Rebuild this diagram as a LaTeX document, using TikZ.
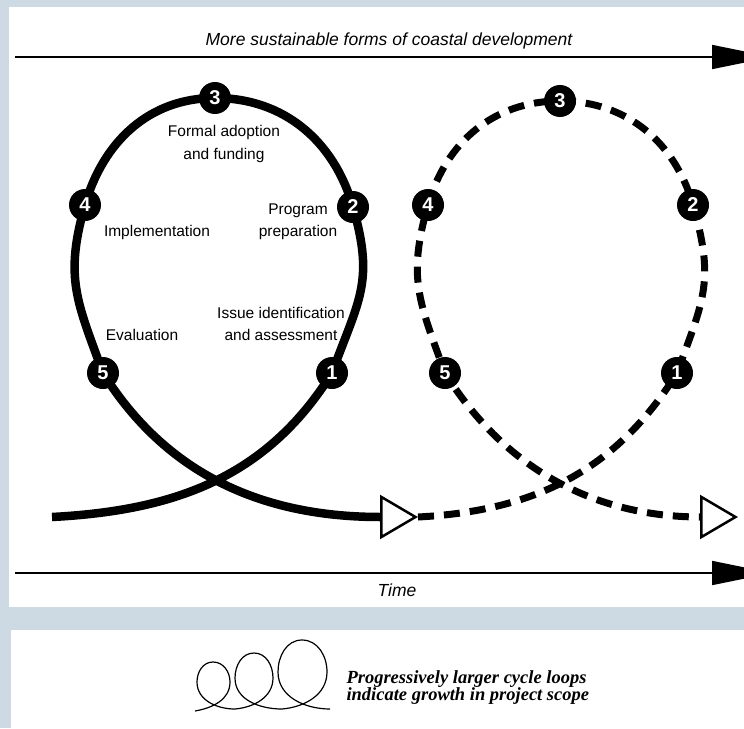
\documentclass[tikz,border=0pt]{standalone}
\usepackage{fontspec}
\setmainfont{Liberation Sans}
\newfontfamily\notefont{Liberation Serif}
\usetikzlibrary{arrows.meta}
\definecolor{framecol}{RGB}{205,218,228}
\tikzset{
  num/.style = {circle, fill=black, text=white, inner sep=0pt, minimum size=32pt,
                font=\bfseries\fontsize{20}{20}\selectfont},
  stage/.style = {align=center, font=\fontsize{15.5}{22.5}\selectfont},
  axislabel/.style = {font=\itshape\fontsize{17.5}{17.5}\selectfont},
  axisline/.style = {line width=1.6pt, arrows = {-Triangle[length=60pt,width=24pt]}},
  solidloop/.style = {line width=8.5pt},
  dashloop/.style = {line width=7pt, dash pattern=on 16pt off 10pt},
  cycletip/.style = {arrows = {-Triangle[open,length=38pt,width=44pt,line width=2.5pt]}},
  miniloop/.style = {line width=1.2pt}
}

\begin{document}
\begin{tikzpicture}[x=1pt,y=1pt]
\useasboundingbox (0,0) rectangle (744,-728);
% frame
\fill [framecol] (0,0) rectangle (744,-728);
\fill [white] (9,-7) rectangle (744,-607);
\fill [white] (11,-630) rectangle (744,-728);

% axes
\coordinate (goal west) at (15,-57);
\coordinate (goal east) at (772,-57);
\coordinate (time west) at (15,-573);
\coordinate (time east) at (772,-573);
\draw [axisline] (goal west) -- (goal east);
\draw [axisline] (time west) -- (time east);
\node [axislabel] (goal) at (389,-41) {More sustainable forms of coastal development};
\node [axislabel] (time) at (397,-590) {Time};

% first cycle
\coordinate (first in) at (52,-517);
\coordinate (first out) at (418,-517);
\draw [solidloop, cycletip] (first in) to[out = 3, in = 238] (332,-373) node [num] (s1) {1}
  to[out = 70, in = 286, looseness = 1.2] (353,-207) node [num] (s2) {2}
  to[out = 106, in = 0] (215,-98) node [num] (s3) {3}
  to[out = 180, in = 74] (85,-205) node [num] (s4) {4}
  to[out = 254, in = 110, looseness = 1.15] (103,-373) node [num] (s5) {5}
  to[out = 302, in = 180] (first out);

\node [stage] (adopt) at (224,-144) {Formal adoption\\and funding};
\node [stage] (prep) at (298,-222) {Program\\preparation};
\node [stage] (impl) at (157,-232) {Implementation};
\node [stage] (issue) at (281,-324) {Issue identification\\and assessment};
\node [stage] (eval) at (142,-335) {Evaluation};

% second cycle
\coordinate (second out) at (738,-517);
\draw [dashloop, cycletip] (first out) to[out = 3, in = 238] (677,-373) node [num] (d1) {1}
  to[out = 70, in = 286, looseness = 1.2] (693,-205) node [num] (d2) {2}
  to[out = 106, in = 0] (560,-101) node [num] (d3) {3}
  to[out = 180, in = 74] (428,-205) node [num] (d4) {4}
  to[out = 254, in = 110, looseness = 1.15] (445,-373) node [num] (d5) {5}
  to[out = 302, in = 180] (second out);

% legend
\draw [miniloop] (195,-711) to[out = 10, in = 270] (230,-682) to[out = 90, in = 0] (213,-662)
  to[out = 180, in = 90] (197,-682) to[out = 270, in = 180] (235,-709)
  to[out = 5, in = 270] (273,-678) to[out = 90, in = 0] (254,-653)
  to[out = 180, in = 90] (235,-678) to[out = 270, in = 180] (282,-709)
  to[out = 5, in = 270] (327,-672) to[out = 90, in = 0] (302,-640)
  to[out = 180, in = 90] (278,-672) to[out = 270, in = 180] (330,-709);
\node [anchor = west, align = left, font = \notefont\bfseries\itshape\fontsize{18.5}{17}\selectfont]
  (note) at (343,-688) {Progressively larger cycle loops\\indicate growth in project scope};
\end{tikzpicture}
\end{document}
